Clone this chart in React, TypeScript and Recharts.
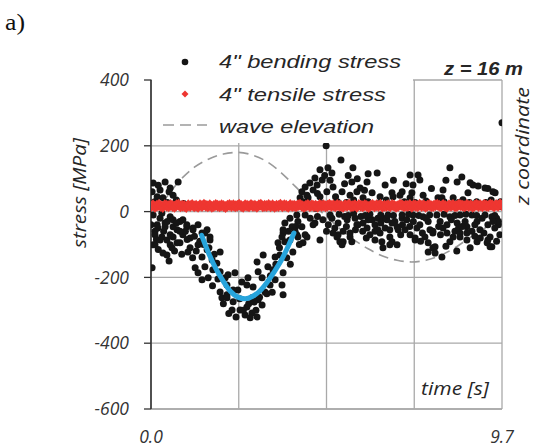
import React from 'react';
import { ComposedChart, Scatter, Line, XAxis, YAxis, CartesianGrid, Legend } from 'recharts';

// ---------- data ----------
const xTicks = [0, 2.425, 4.85, 7.275, 9.7];
const xTickLabels: Record<string, string> = { '0': '0.0', '9.7': '9.7' };
const yTicks = [-600, -400, -200, 0, 200, 400];

// 4" bending stress [time s, stress MPa]
const bendingStress: [number, number][] = [
  [0.06, 87], [0.39, 90], [0.75, 90], [0.03, 60], [0.25, 66], [0.53, 72], [0.17, 45], [0.33, 42], [0.61, 50],
  [0.1, 30], [0.45, 28], [0.9, 25], [0.2, 80], [0.5, 60], [0.7, 35], [0.15, 15], [0.3, -5],
  [0.06, -10], [0.25, -20], [0.53, -16], [0.61, -25], [0.88, -25], [0.17, -40], [0.39, -46], [0.72, -55],
  [0.99, -46], [1.16, -55], [0.11, -60], [0.3, -77], [0.61, -77], [0.88, -70], [1.08, -80], [1.41, -65],
  [1.63, -86], [0.06, -101], [0.53, -101], [0.8, -95], [1.08, -110], [0.44, -86], [1.55, -55],
  [0.0, -40], [0.19, -50], [0.39, -35], [0.61, -46], [0.8, -30], [0.99, -40], [1.16, -50], [0.11, -70],
  [0.53, -70], [0.88, -65], [1.49, -65], [1.63, -77], [0.25, -86], [0.72, -95], [1.3, -101], [0.11, -101],
  [0.44, -132], [0.33, -126], [1.02, -123], [1.55, -116], [1.41, -138], [1.91, -123], [1.69, -147],
  [1.82, -157], [1.22, -171], [1.3, -186], [0.03, -171], [1.58, -201], [1.41, -207], [1.91, -183],
  [2.05, -201], [1.91, -244], [1.96, -262], [2.1, -253], [1.71, -177], [1.49, -168],
  [0.45, -30], [0.7, -35], [0.95, -60], [1.2, -75], [1.35, -90], [0.2, -115], [0.65, -120], [0.5, -150],
  [0.85, -130], [1.15, -140], [0.35, -60], [0.8, -60], [1.0, -85], [1.25, -120], [0.58, -110],
  [1.45, -100], [1.6, -110], [1.75, -130], [1.85, -205], [1.7, -225], [1.3, -40], [0.15, -85],
  [3.7, -35], [3.9, -46], [4.06, -30], [4.48, -40], [4.26, -70], [4.03, -70], [3.65, -65], [3.84, -86],
  [3.51, -95], [3.92, -123], [3.56, -132], [3.43, -138], [3.1, -132], [2.93, -153], [3.23, -168],
  [2.96, -183], [3.37, -177], [3.65, -186], [3.62, -223], [3.65, -253], [3.43, -207], [3.29, -223],
  [3.07, -201], [3.15, -244], [2.96, -268], [2.79, -262], [2.65, -290], [2.79, -308], [2.6, -314],
  [2.46, -299], [2.27, -274], [2.24, -299], [2.1, -262], [2.13, -192], [2.32, -186], [2.51, -214],
  [2.4, -238], [2.65, -223], [2.68, -201], [2.82, -229], [3.07, -284], [2.93, -320], [2.27, -238],
  [2.1, -223], [2.74, -323], [2.0, -280], [2.15, -310], [2.35, -320], [2.55, -300], [2.7, -280],
  [2.9, -300], [3.0, -260], [3.2, -250], [3.3, -195], [3.45, -160], [3.55, -110], [3.75, -140],
  [3.85, -160], [3.8, -60], [4.0, -45], [4.1, -100], [2.45, -265], [2.85, -275], [3.35, -245],
  [4.26, 75], [4.39, 87], [4.17, 60], [4.48, 66], [4.31, 50], [4.12, 42], [4.34, 42], [3.84, -20],
  [4.03, -10], [4.26, -10], [4.17, -46], [3.65, -55], [3.98, -60], [4.31, -77], [3.62, -77], [3.7, -92],
  [4.2, -95], [4.06, -77], [4.15, 20], [4.2, 30], [4.4, -20], [4.55, 10], [4.6, 55],
  [4.84, 200], [5.25, 157], [5.58, 133], [6.25, 117], [4.67, 127], [4.89, 133], [5.0, 117], [4.53, 102],
  [4.73, 96], [5.55, 90], [5.97, 90], [6.47, 81], [4.59, 81], [5.03, 75], [5.78, 72], [5.28, 60],
  [5.69, 60], [6.11, 57], [6.66, 57], [6.88, 50], [4.86, 60], [5.5, 50], [6.33, 45], [4.67, 45], [5.86, 42],
  [4.8, 110], [4.95, 95], [5.1, 45], [5.35, 85], [5.45, 110], [5.7, 100], [5.9, 65], [6.0, 115],
  [4.75, -25], [5.0, -20], [5.17, -35], [5.42, -25], [5.64, -20], [5.86, -35], [6.11, -25], [6.27, -20],
  [6.52, -25], [6.74, -30], [6.94, -20], [4.53, -35], [5.08, -50], [5.31, -60], [5.72, -40], [5.97, -50],
  [6.47, -50], [6.8, -46], [5.17, -70], [6.19, -60], [6.6, -77], [5.31, -92], [6.38, -92], [6.66, -92],
  [4.67, -86], [5.5, -77],
  [5.69, -40], [6.19, -40], [6.41, -20], [6.66, -35], [6.83, -55], [5.03, -65], [5.14, -77], [5.5, -65],
  [6.27, -55], [6.33, -65], [6.6, -55], [5.22, -92], [5.55, -92], [6.19, -86], [6.8, -101], [5.28, -101],
  [6.41, -110], [6.6, -101], [4.6, -15], [4.9, -40], [5.35, -15], [5.8, -15], [6.0, -25], [6.55, -10],
  [6.9, -70], [5.95, -80], [5.4, -45], [6.35, -35], [4.85, -60], [5.65, -55],
  [8.26, 133], [8.59, 105], [8.46, 90], [7.16, 111], [7.38, 111], [7.43, 96], [7.24, 81], [8.07, 66],
  [8.9, 81], [9.04, 78], [9.23, 72], [8.76, 57], [6.94, 60], [7.21, 57], [7.52, 50], [7.93, 42], [8.35, 42],
  [7.16, 42], [8.62, 36], [9.51, 57], [9.7, 270], [6.69, 45], [8.04, 42], [8.82, 88], [9.31, 70],
  [7.75, 70], [8.15, 95], [9.45, 60], [6.7, 95], [7.05, 85],
  [6.94, -10], [7.24, -10], [7.52, -16], [7.9, -10], [8.26, -16], [8.54, -10], [8.87, -10], [9.23, -10],
  [9.42, -16], [7.07, -25], [7.43, -40], [7.66, -30], [7.99, -30], [8.18, -40], [8.46, -35], [8.68, -30],
  [9.01, -30], [9.31, -40], [7.02, -55], [7.35, -50], [7.71, -55], [8.07, -50], [8.4, -60], [8.73, -46],
  [8.87, -60], [9.09, -55], [7.16, -70], [7.57, -77], [7.79, -65], [8.54, -77], [8.73, -86], [9.37, -77],
  [7.3, -86], [7.66, -95], [7.85, -107], [8.26, -92], [9.29, -95], [9.42, -107],
  [7.3, -80], [7.66, -123], [7.79, -110], [7.85, -126], [8.04, -138], [8.82, -110], [9.01, -92],
  [9.31, -86], [9.37, -107], [8.18, -65], [8.35, -77], [8.54, -65], [8.73, -65], [8.68, -40], [7.79, -60],
  [9.64, -70], [9.6, -40], [9.55, -20], [9.66, 30],
  [4.95, -10], [5.2, -8], [5.45, -12], [5.6, -5], [5.92, -12], [6.05, -8], [6.35, -10], [6.7, -12],
  [7.12, -8], [7.4, -12], [7.7, -10], [8.1, -8], [8.4, -12], [8.7, -8], [9.0, -12], [9.15, -20], [9.5, -12],
  [9.6, -30], [7.95, -45], [8.5, -50], [9.2, -65], [9.5, -50], [8.95, -75], [7.5, -65], [6.05, -70],
  [5.85, -60], [6.95, -40], [7.25, -30], [7.6, -20], [8.0, -70], [8.3, -25], [8.6, -45], [8.95, -40],
  [9.1, -80], [9.45, -30], [7.45, -90], [8.15, -105], [8.45, -120], [9.55, -90], [7.15, -45],
  [5.15, 30], [5.6, 35], [6.0, 30], [6.5, 35], [7.0, 30], [7.6, 32], [8.1, 30], [8.5, 28], [9.0, 30],
  [9.4, 35], [4.7, 25], [9.65, 15], [5.4, 28], [6.3, 25], [7.3, 28], [7.9, 25], [8.8, 28], [9.25, 28],
];

// 4" tensile stress [MPa], evenly sampled over 0 .. 9.7 s
const tensileStress: number[] = [
  16, 19, 15, 18, 20, 17, 14, 19, 18, 16, 20, 17, 15, 19, 21, 16, 18, 17, 14, 19,
  17, 20, 16, 18, 15, 19, 17, 21, 18, 16, 19, 15, 17, 20, 18, 16, 19, 17, 14, 18,
  20, 17, 19, 16, 18, 21, 17, 15, 19, 18, 16, 20, 17, 18, 15, 19, 21, 16, 18, 17,
  20, 16, 19, 15, 18, 17, 21, 16, 19, 18, 15, 20, 17, 18, 16, 19, 21, 17, 15, 18,
  20, 16, 19, 17, 18, 15, 20, 17, 19, 16, 18, 21, 17, 19, 16, 20, 18, 17, 15, 19,
  18, 21, 16, 17, 19, 15, 20, 18, 16, 19, 17, 14, 18, 20, 16, 19, 17, 21, 15, 18,
  17, 19, 16, 20, 18, 15, 17, 21, 19, 16, 18, 17, 20, 15, 19, 18, 16, 21, 17, 19,
  15, 18, 20, 16, 17, 19, 21, 18, 16, 20, 17, 15, 19, 18, 20, 16, 17, 21, 19, 18,
  16, 20, 17, 19, 15, 18, 21, 17, 19, 16, 20, 18, 17, 21, 19, 16, 20, 18, 22, 19,
];

// wave elevation (scaled) [time s, value]
const waveElevation: [number, number][] = [
  [0, -10], [0.4, 40], [0.8, 95], [1.2, 135], [1.6, 160], [2.0, 175], [2.4, 180], [2.8, 172], [3.2, 152],
  [3.6, 118], [4.0, 75], [4.4, 30], [4.8, -10], [5.2, -50], [5.6, -85], [6.0, -113], [6.4, -135],
  [6.8, -148], [7.2, -153], [7.6, -148], [8.0, -133], [8.4, -110], [8.8, -80], [9.2, -52], [9.7, -22],
];

// fitted curve through the trough [time s, stress MPa]
const fitCurve: [number, number][] = [
  [1.4, -72], [1.6, -128], [1.8, -175], [2.0, -212], [2.2, -243], [2.4, -260], [2.6, -265], [2.8, -258],
  [3.0, -242], [3.2, -216], [3.4, -184], [3.6, -148], [3.8, -103], [3.95, -65],
];

const bendingData = bendingStress.map(([t, v]) => ({ t, v }));
const tensileData = tensileStress.map((v, i) => ({ t: (i * 9.7) / (tensileStress.length - 1), v }));
const waveData = waveElevation.map(([t, v]) => ({ t, v }));
const fitData = fitCurve.map(([t, v]) => ({ t, v }));

// ---------- styles ----------
const GRID = '#a9a9a9';
const AXIS = '#333333';
const TEXT = '#262626';
const RED = '#ee3631';
const BLUE = '#27a4dc';

const BlackDot = (props: any) => {
  const { cx, cy } = props;
  if (cx == null || cy == null) return null;
  return <circle cx={cx} cy={cy} r={3.5} fill="#151515" />;
};

const RedDiamond = (props: any) => {
  const { cx, cy } = props;
  if (cx == null || cy == null) return null;
  return (
    <polygon
      points={`${cx},${cy - 6} ${cx + 5},${cy} ${cx},${cy + 6} ${cx - 5},${cy}`}
      fill={RED}
    />
  );
};

const NoPoint = () => null;

const XTick = (props: any) => {
  const { x, y, payload } = props;
  const label = xTickLabels[String(payload.value)];
  if (!label) return null;
  return (
    <text
      x={x}
      y={y + 34}
      textAnchor="middle"
      fontFamily="'Open Sans', sans-serif"
      fontStyle="italic"
      fontSize={17.5}
      fill={AXIS}
    >
      {label}
    </text>
  );
};

const legendFont = "'Liberation Sans', Arial, sans-serif";

const renderLegend = () => (
  <svg width={261} height={98} style={{ display: 'block', background: '#fff' }}>
    <circle cx={33} cy={17} r={3.3} fill="#151515" />
    <text x={67} y={22.5} fontFamily={legendFont} fontStyle="italic" fontSize={19} fill={TEXT}
      textLength={182} lengthAdjust="spacingAndGlyphs">4" bending stress</text>
    <polygon points="33,45.5 36.5,49 33,52.5 29.5,49" fill={RED} />
    <text x={67} y={55.5} fontFamily={legendFont} fontStyle="italic" fontSize={19} fill={TEXT}
      textLength={167} lengthAdjust="spacingAndGlyphs">4" tensile stress</text>
    <line x1={11} y1={80} x2={55} y2={80} stroke="#9a9a9a" strokeWidth={1.6} strokeDasharray="11 6" />
    <text x={67} y={88} fontFamily={legendFont} fontStyle="italic" fontSize={19} fill={TEXT}
      textLength={155} lengthAdjust="spacingAndGlyphs">wave elevation</text>
  </svg>
);

export default function App() {
  return (
    <div style={{ position: 'absolute', left: 0, top: 0, width: 533, height: 448, background: '#fff' }}>
      <ComposedChart
        width={533}
        height={448}
        margin={{ top: 80, right: 31, bottom: 9, left: 91 }}
      >
        <CartesianGrid stroke={GRID} strokeWidth={1.3} />
        <XAxis
          dataKey="t"
          type="number"
          domain={[0, 9.7]}
          ticks={xTicks}
          allowDataOverflow
          height={30}
          tickLine={false}
          tickSize={0}
          tickMargin={0}
          axisLine={{ stroke: GRID, strokeWidth: 1.3 }}
          tick={<XTick />}
          interval={0}
        />
        <YAxis
          dataKey="v"
          type="number"
          domain={[-600, 400]}
          ticks={yTicks}
          allowDataOverflow
          width={60}
          tickSize={7}
          tickMargin={15}
          interval={0}
          axisLine={{ stroke: AXIS, strokeWidth: 1.6 }}
          tickLine={{ stroke: AXIS, strokeWidth: 1.3 }}
          tick={{ fontFamily: "'Open Sans', sans-serif", fontStyle: 'italic', fontSize: 17.5, fill: AXIS }}
        />
        <Legend
          layout="horizontal"
          verticalAlign="middle"
          align="center"
          content={renderLegend}
          wrapperStyle={{ position: 'absolute', left: 152, top: 45, width: 261, height: 98, margin: 0, padding: 0 }}
        />
        <Line
          data={waveData}
          dataKey="v"
          type="monotone"
          stroke="#9a9a9a"
          strokeWidth={1.6}
          strokeDasharray="10 6"
          dot={false}
          activeDot={false}
          legendType="none"
          isAnimationActive={false}
        />
        <Scatter data={bendingData} dataKey="v" shape={BlackDot} isAnimationActive={false} />
        <Scatter data={tensileData} dataKey="v" shape={RedDiamond} isAnimationActive={false} />
        <Scatter
          data={fitData}
          dataKey="v"
          shape={NoPoint}
          line={{ stroke: BLUE, strokeWidth: 5, strokeLinecap: 'round', fill: 'none' }}
          lineJointType="monotoneX"
          legendType="none"
          isAnimationActive={false}
        />
      </ComposedChart>
      <svg
        width={533}
        height={448}
        style={{ position: 'absolute', left: 0, top: 0, pointerEvents: 'none' }}
      >
        <text x={5} y={29.5} fontFamily="'Liberation Serif', 'DejaVu Serif', serif" fontSize={24} fill="#111"
          textLength={20} lengthAdjust="spacingAndGlyphs">a)</text>
        <text x={444} y={75} fontFamily="'Liberation Sans', Arial, sans-serif" fontStyle="italic" fontWeight="bold"
          fontSize={19} fill={TEXT} textLength={79} lengthAdjust="spacingAndGlyphs">z = 16 m</text>
        <text transform="translate(529,146) rotate(-90)" textAnchor="middle" fontFamily="'Open Sans', sans-serif"
          fontStyle="italic" fontSize={18} fill={TEXT} textLength={118} lengthAdjust="spacingAndGlyphs">z coordinate</text>
        <text transform="translate(86,193) rotate(-90)" textAnchor="middle" fontFamily="'Open Sans', sans-serif"
          fontStyle="italic" fontSize={18} fill={TEXT} textLength={110} lengthAdjust="spacingAndGlyphs">stress [MPa]</text>
        <text x={421} y={395} fontFamily="'Open Sans', sans-serif" fontStyle="italic" fontSize={17.5} fill={TEXT}
          textLength={68} lengthAdjust="spacingAndGlyphs">time [s]</text>
      </svg>
    </div>
  );
}
